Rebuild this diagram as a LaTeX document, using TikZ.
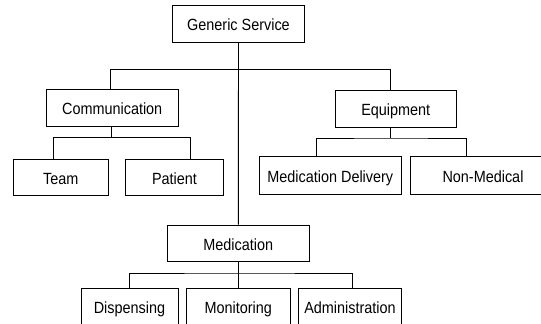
\documentclass[tikz,border=0pt]{standalone}
\usepackage{fontspec}
\setmainfont{Liberation Sans}[FakeStretch=0.89]
\begin{document}
\begin{tikzpicture}[x=1pt,y=-1pt,
  box/.style={draw, line width=0.9pt, rectangle, inner sep=0pt,
    minimum height=36.5pt, text height=13.5pt, text depth=0.1pt,
    font=\fontsize{16.2}{19}\selectfont},
  link/.style={line width=0.9pt}]
\fill[white] (0,0) rectangle (541,324);
\clip (0,0) rectangle (541,324);
% root
\node[box, minimum width=131.6pt] (gen) at (238.5,24) {Generic Service};
% second level
\node[box, minimum width=131.7pt, minimum height=37.4pt] (comm) at (112.2,108) {Communication};
\node[box, minimum width=121.7pt] (equip) at (395.8,109) {Equipment};
\node[box, minimum width=141.3pt] (med) at (238.3,243.3) {Medication};
% communication children
\node[box, minimum width=94.7pt] (team) at (60.7,177.3) {Team};
\node[box, minimum width=98.4pt] (patient) at (174.5,177.3) {Patient};
% equipment children
\node[box, minimum width=141.3pt, minimum height=37.3pt] (meddel) at (330.3,175.3) {Medication Delivery};
\node[box, minimum width=146pt, minimum height=37.3pt] (nonmed) at (483,175.3) {Non-Medical};
% medication children
\node[box, minimum width=97pt] (disp) at (129.5,306.9) {Dispensing};
\node[box, minimum width=103.3pt] (mon) at (238.3,306.9) {Monitoring};
\node[box, minimum width=103.4pt] (admin) at (350,306.9) {Administration};

% junction points of the connector bars
\coordinate (topbar) at (238.5,69.3);
\coordinate (commbar) at (111.2,137.3);
\coordinate (equipbar) at (390.7,138);
\coordinate (medbar) at (238.3,273);
\coordinate (commtop) at ([xshift=-1.5pt]comm.north);
\coordinate (commbot) at ([xshift=-1pt]comm.south);
\coordinate (equiptop) at ([xshift=-5.1pt]equip.north);
\coordinate (equipbot) at ([xshift=-5.1pt]equip.south);
\coordinate (teamtop) at ([xshift=-7.4pt]team.north);
\coordinate (patienttop) at ([xshift=15.8pt]patient.north);
\coordinate (meddeltop) at ([xshift=-14.3pt]meddel.north);
\coordinate (nonmedtop) at ([xshift=-16.3pt]nonmed.north);
\coordinate (admintop) at ([xshift=2.7pt]admin.north);

% connectors
\draw[link] (gen.south) -- (med.north);
\draw[link] (commtop) |- (topbar) -| (equiptop);
\draw[link] (commbot) -- (commbar);
\draw[link] (teamtop) |- (commbar) -| (patienttop);
\draw[link] (equipbot) -- (equipbar);
\draw[link] (meddeltop) |- (equipbar) -| (nonmedtop);
\draw[link] (med.south) -- (medbar);
\draw[link] (disp.north) |- (medbar) -| (admintop);
\draw[link] (mon.north) -- (medbar);
\end{tikzpicture}
\end{document}
